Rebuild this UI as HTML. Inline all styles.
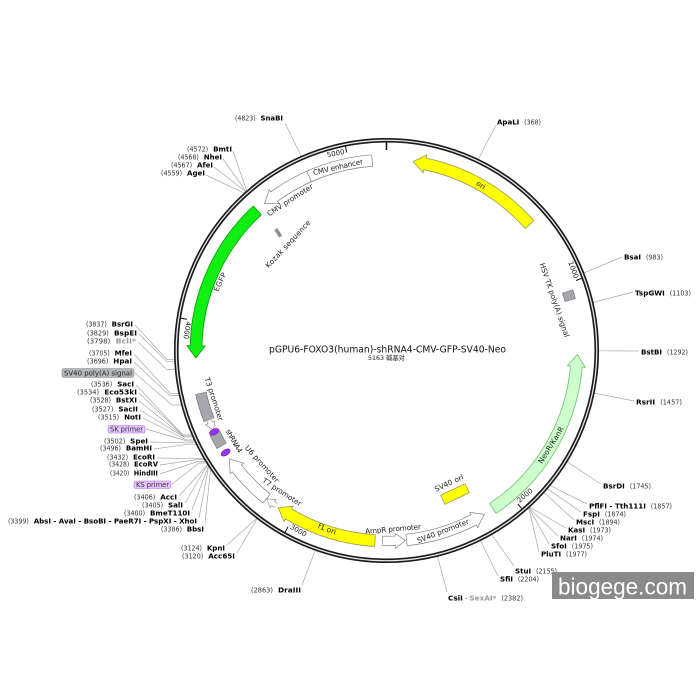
<!DOCTYPE html>
<html><head><meta charset="utf-8"><style>
html,body{margin:0;padding:0;background:#fff;}
svg{display:block;font-family:"DejaVu Sans","Noto Sans CJK SC",sans-serif;}
.n{font-size:6.6px;fill:#333;font-weight:normal;}
.b{font-size:7.4px;fill:#000;font-weight:bold;}
.g{fill:#9a9a9a;}
.ln{stroke:#a8a8a8;stroke-width:0.7;fill:none;}
.fl{font-size:7.3px;fill:#222;}
.tk{font-size:7px;fill:#222;}
</style></head><body>
<svg width="700" height="700" viewBox="0 0 700 700" xmlns="http://www.w3.org/2000/svg">
<rect width="700" height="700" fill="#fff"/>

<!-- label lines -->
<g class="ln">
<path d="M285,123 L301.3,156.4"/>
<path d="M233,151 L246.8,191"/>
<path d="M223,159 L246,191.7"/>
<path d="M214,167 L245.9,191.9"/>
<path d="M206,175 L244.3,193.2"/>
<path d="M135,325 L167,359.6 L174.7,359.6"/>
<path d="M139,334 L167,361.7 L174.8,361.7"/>
<path d="M138,342 L167,369.6 L175.4,369.6"/>
<path d="M134,354 L170,393.3 L178.9,393.3"/>
<path d="M134,362 L170,395.6 L179.4,395.6"/>
<path d="M135,373 L172,405 L181,405"/>
<path d="M136,385 L183,435 L192,435"/>
<path d="M139,393 L183,435.3 L192.2,435.3"/>
<path d="M139,401 L184,436.8 L192.9,436.8"/>
<path d="M140,410 L184,437 L193,437"/>
<path d="M143,418 L186,439.8 L194.2,439.8"/>
<path d="M146,429 L187,441 L195,441"/>
<path d="M150,442 L187,442.8 L195.6,442.8"/>
<path d="M154,449 L188,444.2 L196.3,444.2"/>
<path d="M157,458 L196,458.7 L204.2,458.7"/>
<path d="M160,465 L197,459.6 L204.7,459.6"/>
<path d="M160,474 L198,461.4 L205.8,461.4"/>
<path d="M172,484 L199,463 L207,463"/>
<path d="M179,496 L207.7,464.4"/>
<path d="M185,503 L207.8,464.5"/>
<path d="M192,510 L208.5,465.8"/>
<path d="M199,518 L208.7,466"/>
<path d="M205,523 L210.6,468.8"/>
<path d="M227,545 L256.9,518.1"/>
<path d="M237,553 L257.3,518.6"/>
<path d="M302,585 L315.3,550.2"/>
<path d="M496,125 L478.3,159.4"/>
<path d="M622,257 L583.8,272.9"/>
<path d="M633,292 L593,302.5"/>
<path d="M639,351 L598.5,350.8"/>
<path d="M634,401 L594.2,393.1"/>
<path d="M601,484 L567,461.8"/>
<path d="M587,504 L550.1,485.4"/>
<path d="M581,512 L547.3,488.7"/>
<path d="M574,520 L543.9,492.5"/>
<path d="M566,528 L529.6,507"/>
<path d="M558,536 L528.8,507.6"/>
<path d="M549,544 L528.8,507.6"/>
<path d="M539,552 L528.8,507.6"/>
<path d="M514,566 L491.7,534.6"/>
<path d="M498,576 L480.5,540.5"/>
<path d="M447,592 L437.5,556.3"/>
</g>

<!-- backbone -->
<circle cx="386.5" cy="350.5" r="210.25" fill="none" stroke="#1a1a1a" stroke-width="4.6"/>
<circle cx="386.5" cy="350.5" r="210.25" fill="none" stroke="#e6e6e6" stroke-width="1.3"/>

<!-- ticks -->
<g stroke="#111" stroke-width="1">
<line x1="386.5" y1="142" x2="386.5" y2="150" stroke-width="1.6"/>
<line x1="386.5" y1="142.5" x2="386.5" y2="148.5" transform="rotate(69.73 386.5 350.5)"/>
<line x1="386.5" y1="142.5" x2="386.5" y2="148.5" transform="rotate(139.45 386.5 350.5)"/>
<line x1="386.5" y1="142.5" x2="386.5" y2="148.5" transform="rotate(209.18 386.5 350.5)"/>
<line x1="386.5" y1="142.5" x2="386.5" y2="148.5" transform="rotate(278.91 386.5 350.5)"/>
<line x1="386.5" y1="142.5" x2="386.5" y2="148.5" transform="rotate(348.63 386.5 350.5)"/>
</g>
<text class="tk" x="384.5" y="149.5" text-anchor="end" transform="rotate(348.63 386.5 350.5)">5000</text>
<text class="tk" x="384.5" y="149.5" text-anchor="end" transform="rotate(69.73 386.5 350.5)">1000</text>
<text class="tk" x="388.5" y="553" transform="rotate(-40.55 386.5 350.5)">2000</text>
<text class="tk" x="388.5" y="553" transform="rotate(29.18 386.5 350.5)">3000</text>
<text class="tk" x="388.5" y="553" transform="rotate(98.91 386.5 350.5)">4000</text>

<!-- ===== features ===== -->
<g fill="none">
<!-- ori -->
<path d="M386.5,160A190.5,190.5 0 1 1 386.5,541A190.5,190.5 0 1 1 386.5,160" pathLength="5163" stroke="#99995f" stroke-width="12.6" stroke-dasharray="531 9999" stroke-dashoffset="-167"/>
<polygon points="386.5,151 386.5,169 374.5,160" fill="#ffff00" stroke="#99995f" stroke-width="0.8" transform="rotate(11.64 386.5 350.5)"/>
<path d="M386.5,160A190.5,190.5 0 1 1 386.5,541A190.5,190.5 0 1 1 386.5,160" pathLength="5163" stroke="#ffff00" stroke-width="11" stroke-dasharray="534 9999" stroke-dashoffset="-164"/>
<line x1="386.5" y1="154.2" x2="386.5" y2="165.8" stroke="#99995f" stroke-width="0.8" transform="rotate(48.67 386.5 350.5)"/>

<!-- NeoR/KanR -->
<path d="M386.5,160A190.5,190.5 0 1 1 386.5,541A190.5,190.5 0 1 1 386.5,160" pathLength="5163" stroke="#6fbf6f" stroke-width="12.6" stroke-dasharray="735 9999" stroke-dashoffset="-1360"/>
<polygon points="386.5,151 386.5,169 374.5,160" fill="#ccffcc" stroke="#6fbf6f" stroke-width="0.8" transform="rotate(94.83 386.5 350.5)"/>
<path d="M386.5,160A190.5,190.5 0 1 1 386.5,541A190.5,190.5 0 1 1 386.5,160" pathLength="5163" stroke="#ccffcc" stroke-width="11" stroke-dasharray="738 9999" stroke-dashoffset="-1357"/>
<line x1="386.5" y1="154.2" x2="386.5" y2="165.8" stroke="#6fbf6f" stroke-width="0.8" transform="rotate(146.08 386.5 350.5)"/>

<!-- EGFP -->
<path d="M386.5,160A190.5,190.5 0 1 1 386.5,541A190.5,190.5 0 1 1 386.5,160" pathLength="5163" stroke="#00a000" stroke-width="12.6" stroke-dasharray="659 9999" stroke-dashoffset="-3892"/>
<polygon points="386.5,151 386.5,169 374.5,160" fill="#11ee11" stroke="#00a000" stroke-width="0.8" transform="rotate(271.38 386.5 350.5)"/>
<path d="M386.5,160A190.5,190.5 0 1 1 386.5,541A190.5,190.5 0 1 1 386.5,160" pathLength="5163" stroke="#11ee11" stroke-width="11" stroke-dasharray="662 9999" stroke-dashoffset="-3889"/>
<line x1="386.5" y1="154.2" x2="386.5" y2="165.8" stroke="#00a000" stroke-width="0.8" transform="rotate(317.33 386.5 350.5)"/>

<!-- CMV promoter + enhancer -->
<path d="M386.5,160A190.5,190.5 0 1 1 386.5,541A190.5,190.5 0 1 1 386.5,160" pathLength="5163" stroke="#808080" stroke-width="12.2" stroke-dasharray="456 9999" stroke-dashoffset="-4645"/>
<polygon points="386.5,151.5 386.5,168.5 374.5,160" fill="#fff" stroke="#808080" stroke-width="0.7" transform="rotate(323.88 386.5 350.5)"/>
<path d="M386.5,160A190.5,190.5 0 1 1 386.5,541A190.5,190.5 0 1 1 386.5,160" pathLength="5163" stroke="#fff" stroke-width="10.8" stroke-dasharray="459 9999" stroke-dashoffset="-4642"/>
<line x1="386.5" y1="154.4" x2="386.5" y2="165.6" stroke="#808080" stroke-width="0.7" transform="rotate(336.01 386.5 350.5)"/>
<line x1="386.5" y1="154.4" x2="386.5" y2="165.6" stroke="#808080" stroke-width="0.7" transform="rotate(355.68 386.5 350.5)"/>

<!-- SV40 promoter -->
<path d="M386.5,160A190.5,190.5 0 1 1 386.5,541A190.5,190.5 0 1 1 386.5,160" pathLength="5163" stroke="#808080" stroke-width="12.2" stroke-dasharray="304 9999" stroke-dashoffset="-2191"/>
<polygon points="386.5,151.5 386.5,168.5 374.5,160" fill="#fff" stroke="#808080" stroke-width="0.7" transform="rotate(152.77 386.5 350.5)"/>
<path d="M386.5,160A190.5,190.5 0 1 1 386.5,541A190.5,190.5 0 1 1 386.5,160" pathLength="5163" stroke="#fff" stroke-width="10.8" stroke-dasharray="307 9999" stroke-dashoffset="-2188"/>
<line x1="386.5" y1="154.4" x2="386.5" y2="165.6" stroke="#808080" stroke-width="0.7" transform="rotate(173.97 386.5 350.5)"/>

<!-- AmpR promoter -->
<path d="M386.5,160A190.5,190.5 0 1 1 386.5,541A190.5,190.5 0 1 1 386.5,160" pathLength="5163" stroke="#808080" stroke-width="10.2" stroke-dasharray="57 9999" stroke-dashoffset="-2543"/>
<polygon points="386.5,152.5 386.5,167.5 376.5,160" fill="#fff" stroke="#808080" stroke-width="0.7" transform="rotate(177.32 386.5 350.5)"/>
<path d="M386.5,160A190.5,190.5 0 1 1 386.5,541A190.5,190.5 0 1 1 386.5,160" pathLength="5163" stroke="#fff" stroke-width="8.8" stroke-dasharray="60 9999" stroke-dashoffset="-2540"/>
<line x1="386.5" y1="155.4" x2="386.5" y2="164.6" stroke="#808080" stroke-width="0.7" transform="rotate(181.29 386.5 350.5)"/>

<!-- f1 ori -->
<path d="M386.5,160A190.5,190.5 0 1 1 386.5,541A190.5,190.5 0 1 1 386.5,160" pathLength="5163" stroke="#99995f" stroke-width="12.6" stroke-dasharray="394 9999" stroke-dashoffset="-2631"/>
<polygon points="386.5,151 386.5,169 398.5,160" fill="#ffff00" stroke="#99995f" stroke-width="0.8" transform="rotate(210.93 386.5 350.5)"/>
<path d="M386.5,160A190.5,190.5 0 1 1 386.5,541A190.5,190.5 0 1 1 386.5,160" pathLength="5163" stroke="#ffff00" stroke-width="11" stroke-dasharray="397 9999" stroke-dashoffset="-2631"/>
<line x1="386.5" y1="154.2" x2="386.5" y2="165.8" stroke="#99995f" stroke-width="0.8" transform="rotate(183.45 386.5 350.5)"/>

<!-- U6 promoter -->
<path d="M386.5,160A190.5,190.5 0 1 1 386.5,541A190.5,190.5 0 1 1 386.5,160" pathLength="5163" stroke="#808080" stroke-width="12.2" stroke-dasharray="183 9999" stroke-dashoffset="-3141"/>
<polygon points="386.5,151.5 386.5,168.5 398.5,160" fill="#fff" stroke="#808080" stroke-width="0.7" transform="rotate(231.77 386.5 350.5)"/>
<path d="M386.5,160A190.5,190.5 0 1 1 386.5,541A190.5,190.5 0 1 1 386.5,160" pathLength="5163" stroke="#fff" stroke-width="10.8" stroke-dasharray="186 9999" stroke-dashoffset="-3141"/>
<line x1="386.5" y1="154.4" x2="386.5" y2="165.6" stroke="#808080" stroke-width="0.7" transform="rotate(219.01 386.5 350.5)"/>

<!-- T7 promoter tiny -->
<path d="M386.5,160A190.5,190.5 0 1 1 386.5,541A190.5,190.5 0 1 1 386.5,160" pathLength="5163" stroke="#808080" stroke-width="5.4" stroke-dasharray="15 9999" stroke-dashoffset="-3090"/>
<polygon points="386.5,155 386.5,165 394.5,160" fill="#fff" stroke="#808080" stroke-width="0.6" transform="rotate(216.5 386.5 350.5)"/>
<path d="M386.5,160A190.5,190.5 0 1 1 386.5,541A190.5,190.5 0 1 1 386.5,160" pathLength="5163" stroke="#fff" stroke-width="4.2" stroke-dasharray="17 9999" stroke-dashoffset="-3090"/>

<!-- T3 promoter tiny -->
<path d="M386.5,160A190.5,190.5 0 1 1 386.5,541A190.5,190.5 0 1 1 386.5,160" pathLength="5163" stroke="#808080" stroke-width="5.4" stroke-dasharray="10 9999" stroke-dashoffset="-3552"/>
<polygon points="386.5,155 386.5,165 378.5,160" fill="#fff" stroke="#808080" stroke-width="0.6" transform="rotate(247.67 386.5 350.5)"/>
<path d="M386.5,160A190.5,190.5 0 1 1 386.5,541A190.5,190.5 0 1 1 386.5,160" pathLength="5163" stroke="#fff" stroke-width="4.2" stroke-dasharray="12 9999" stroke-dashoffset="-3550"/>

<!-- gray boxes -->
<path d="M386.5,160A190.5,190.5 0 1 1 386.5,541A190.5,190.5 0 1 1 386.5,160" pathLength="5163" stroke="#6e7276" stroke-width="11.4" stroke-dasharray="122 9999" stroke-dashoffset="-3565"/>
<path d="M386.5,160A190.5,190.5 0 1 1 386.5,541A190.5,190.5 0 1 1 386.5,160" pathLength="5163" stroke="#a4a8ad" stroke-width="10" stroke-dasharray="118 9999" stroke-dashoffset="-3567"/>
<path d="M386.5,160A190.5,190.5 0 1 1 386.5,541A190.5,190.5 0 1 1 386.5,160" pathLength="5163" stroke="#6e7276" stroke-width="11.4" stroke-dasharray="65 9999" stroke-dashoffset="-3440"/>
<path d="M386.5,160A190.5,190.5 0 1 1 386.5,541A190.5,190.5 0 1 1 386.5,160" pathLength="5163" stroke="#a4a8ad" stroke-width="10" stroke-dasharray="61 9999" stroke-dashoffset="-3442"/>
<path d="M386.5,160A190.5,190.5 0 1 1 386.5,541A190.5,190.5 0 1 1 386.5,160" pathLength="5163" stroke="#6e7276" stroke-width="11.4" stroke-dasharray="42 9999" stroke-dashoffset="-1030"/>
<path d="M386.5,160A190.5,190.5 0 1 1 386.5,541A190.5,190.5 0 1 1 386.5,160" pathLength="5163" stroke="#a4a8ad" stroke-width="10" stroke-dasharray="38 9999" stroke-dashoffset="-1032"/>
</g>

<!-- primer ellipses -->
<ellipse cx="386.5" cy="160" rx="2.8" ry="5" fill="#9a33ee" stroke="#6a1aa8" stroke-width="0.6" transform="rotate(237.63 386.5 350.5)"/>
<ellipse cx="386.5" cy="160" rx="2.8" ry="5" fill="#9a33ee" stroke="#6a1aa8" stroke-width="0.6" transform="rotate(244.74 386.5 350.5)"/>

<!-- SV40 ori & Kozak -->
<rect x="441.5" y="489" width="27" height="10" fill="#ffff00" stroke="#99995f" stroke-width="0.8" transform="rotate(-25 455 494)"/>
<rect x="276.5" y="228.5" width="3.5" height="9" fill="#8c8c8c" transform="rotate(-33 278 233)"/>

<!-- feature labels -->
<text class="fl" x="481" y="187.5" text-anchor="middle" transform="rotate(33 481 185)">ori</text>
<text class="fl" x="554.5" y="302.5" text-anchor="middle" transform="rotate(71 554.5 300)" textLength="78">HSV TK poly(A) signal</text>
<text class="fl" x="551" y="447.5" text-anchor="middle" transform="rotate(-58 551 445)" textLength="42">NeoR/KanR</text>
<text class="fl" x="449" y="485.5" text-anchor="middle" transform="rotate(-25 449 483)" textLength="31">SV40 ori</text>
<text class="fl" x="443" y="533.5" text-anchor="middle" transform="rotate(-21 443 531)" textLength="55">SV40 promoter</text>
<text class="fl" x="393" y="531.5" text-anchor="middle" transform="rotate(-5 393 529)" textLength="56">AmpR promoter</text>
<text class="fl" x="327" y="531.5" text-anchor="middle" transform="rotate(20 327 529)">f1 ori</text>
<text class="fl" x="282" y="494.5" text-anchor="middle" transform="rotate(33 282 492)" textLength="45">T7 promoter</text>
<text class="fl" x="262" y="466.5" text-anchor="middle" transform="rotate(48 262 464)" textLength="47">U6 promoter</text>
<text class="fl" x="234" y="443.5" text-anchor="middle" transform="rotate(60 234 441)" textLength="26">shRNA4</text>
<text class="fl" x="214" y="401.5" text-anchor="middle" transform="rotate(72 214 399)" textLength="45">T3 promoter</text>
<text class="fl" x="220" y="284.5" text-anchor="middle" transform="rotate(-65 220 282)" textLength="20">EGFP</text>
<text class="fl" x="338" y="169.5" text-anchor="middle" transform="rotate(-13 338 167)" textLength="51">CMV enhancer</text>
<text class="fl" x="290" y="202.5" text-anchor="middle" transform="rotate(-33 290 200)" textLength="53">CMV promoter</text>
<text class="fl" x="288" y="246.5" text-anchor="middle" transform="rotate(-47 288 244)" textLength="62">Kozak sequence</text>

<!-- title -->
<text x="269" y="352.5" font-size="9.5" fill="#111" textLength="237" lengthAdjust="spacingAndGlyphs">pGPU6-FOXO3(human)-shRNA4-CMV-GFP-SV40-Neo</text>
<text x="368" y="360" font-size="6.3" fill="#222" textLength="37" lengthAdjust="spacingAndGlyphs">5163 碱基对</text>

<!-- left labels -->
<g>
<text x="235" y="120.5" textLength="48" lengthAdjust="spacingAndGlyphs"><tspan class="n">(4823)</tspan> <tspan class="b">SnaBI</tspan></text>
<text x="187" y="151.5" textLength="45" lengthAdjust="spacingAndGlyphs"><tspan class="n">(4572)</tspan> <tspan class="b">BmtI</tspan></text>
<text x="178" y="159.5" textLength="44" lengthAdjust="spacingAndGlyphs"><tspan class="n">(4568)</tspan> <tspan class="b">NheI</tspan></text>
<text x="171" y="167.5" textLength="42" lengthAdjust="spacingAndGlyphs"><tspan class="n">(4567)</tspan> <tspan class="b">AfeI</tspan></text>
<text x="161" y="175.5" textLength="44" lengthAdjust="spacingAndGlyphs"><tspan class="n">(4559)</tspan> <tspan class="b">AgeI</tspan></text>
<text x="86" y="326.5" textLength="47" lengthAdjust="spacingAndGlyphs"><tspan class="n">(3837)</tspan> <tspan class="b">BsrGI</tspan></text>
<text x="87" y="335.5" textLength="50" lengthAdjust="spacingAndGlyphs"><tspan class="n">(3829)</tspan> <tspan class="b">BspEI</tspan></text>
<text x="87" y="343.5" textLength="49" lengthAdjust="spacingAndGlyphs"><tspan class="n">(3798)</tspan> <tspan class="b g">BclI*</tspan></text>
<text x="89" y="355.5" textLength="43" lengthAdjust="spacingAndGlyphs"><tspan class="n">(3705)</tspan> <tspan class="b">MfeI</tspan></text>
<text x="87" y="363.5" textLength="45" lengthAdjust="spacingAndGlyphs"><tspan class="n">(3696)</tspan> <tspan class="b">HpaI</tspan></text>
<rect x="62" y="368.5" width="72" height="9" rx="2" fill="#b4b8bc" stroke="#8a8e92" stroke-width="0.6"/>
<text x="64" y="375.5" font-size="7" fill="#222" textLength="68" lengthAdjust="spacingAndGlyphs">SV40 poly(A) signal</text>
<text x="91" y="386.5" textLength="43" lengthAdjust="spacingAndGlyphs"><tspan class="n">(3536)</tspan> <tspan class="b">SacI</tspan></text>
<text x="77" y="394.5" textLength="60" lengthAdjust="spacingAndGlyphs"><tspan class="n">(3534)</tspan> <tspan class="b">Eco53kI</tspan></text>
<text x="90" y="402.5" textLength="47" lengthAdjust="spacingAndGlyphs"><tspan class="n">(3528)</tspan> <tspan class="b">BstXI</tspan></text>
<text x="92" y="411.5" textLength="46" lengthAdjust="spacingAndGlyphs"><tspan class="n">(3527)</tspan> <tspan class="b">SacII</tspan></text>
<text x="98" y="419.5" textLength="43" lengthAdjust="spacingAndGlyphs"><tspan class="n">(3515)</tspan> <tspan class="b">NotI</tspan></text>
<rect x="108" y="425.5" width="37" height="7.5" rx="2" fill="#e6c2ff" stroke="#b070e0" stroke-width="0.6"/>
<text x="110" y="431.5" font-size="6.8" fill="#333" textLength="33" lengthAdjust="spacingAndGlyphs">SK primer</text>
<text x="104" y="443.5" textLength="44" lengthAdjust="spacingAndGlyphs"><tspan class="n">(3502)</tspan> <tspan class="b">SpeI</tspan></text>
<text x="100" y="450.5" textLength="52" lengthAdjust="spacingAndGlyphs"><tspan class="n">(3496)</tspan> <tspan class="b">BamHI</tspan></text>
<text x="107" y="459.5" textLength="48" lengthAdjust="spacingAndGlyphs"><tspan class="n">(3432)</tspan> <tspan class="b">EcoRI</tspan></text>
<text x="109" y="466.5" textLength="49" lengthAdjust="spacingAndGlyphs"><tspan class="n">(3428)</tspan> <tspan class="b">EcoRV</tspan></text>
<text x="110" y="475.5" textLength="48" lengthAdjust="spacingAndGlyphs"><tspan class="n">(3420)</tspan> <tspan class="b">HindIII</tspan></text>
<rect x="134" y="481" width="37" height="7.5" rx="2" fill="#e6c2ff" stroke="#b070e0" stroke-width="0.6"/>
<text x="136" y="487" font-size="6.8" fill="#333" textLength="33" lengthAdjust="spacingAndGlyphs">KS primer</text>
<text x="134" y="499.5" textLength="43" lengthAdjust="spacingAndGlyphs"><tspan class="n">(3406)</tspan> <tspan class="b">AccI</tspan></text>
<text x="142" y="507.5" textLength="41" lengthAdjust="spacingAndGlyphs"><tspan class="n">(3405)</tspan> <tspan class="b">SalI</tspan></text>
<text x="124" y="515.5" textLength="66" lengthAdjust="spacingAndGlyphs"><tspan class="n">(3400)</tspan> <tspan class="b">BmeT110I</tspan></text>
<text x="8" y="523.5" textLength="189" lengthAdjust="spacingAndGlyphs"><tspan class="n">(3399)</tspan> <tspan class="b">AbsI - AvaI - BsoBI - PaeR7I - PspXI - XhoI</tspan></text>
<text x="161" y="531.5" textLength="43" lengthAdjust="spacingAndGlyphs"><tspan class="n">(3386)</tspan> <tspan class="b">BbsI</tspan></text>
<text x="181" y="550.5" textLength="44" lengthAdjust="spacingAndGlyphs"><tspan class="n">(3124)</tspan> <tspan class="b">KpnI</tspan></text>
<text x="182" y="558.5" textLength="53" lengthAdjust="spacingAndGlyphs"><tspan class="n">(3120)</tspan> <tspan class="b">Acc65I</tspan></text>
<text x="251" y="592.5" textLength="50" lengthAdjust="spacingAndGlyphs"><tspan class="n">(2863)</tspan> <tspan class="b">DraIII</tspan></text>

<!-- right labels -->
<text x="497" y="124.5" textLength="44" lengthAdjust="spacingAndGlyphs"><tspan class="b">ApaLI</tspan> <tspan class="n">(368)</tspan></text>
<text x="624" y="259.5" textLength="39" lengthAdjust="spacingAndGlyphs"><tspan class="b">BsaI</tspan> <tspan class="n">(983)</tspan></text>
<text x="635" y="295.5" textLength="56" lengthAdjust="spacingAndGlyphs"><tspan class="b">TspGWI</tspan> <tspan class="n">(1103)</tspan></text>
<text x="641" y="354.5" textLength="47" lengthAdjust="spacingAndGlyphs"><tspan class="b">BstBI</tspan> <tspan class="n">(1292)</tspan></text>
<text x="636" y="404.5" textLength="46" lengthAdjust="spacingAndGlyphs"><tspan class="b">RsrII</tspan> <tspan class="n">(1457)</tspan></text>
<text x="603" y="488.5" textLength="48" lengthAdjust="spacingAndGlyphs"><tspan class="b">BsrDI</tspan> <tspan class="n">(1745)</tspan></text>
<text x="589" y="508.5" textLength="83" lengthAdjust="spacingAndGlyphs"><tspan class="b">PflFI - Tth111I</tspan> <tspan class="n">(1857)</tspan></text>
<text x="583" y="516.5" textLength="43" lengthAdjust="spacingAndGlyphs"><tspan class="b">FspI</tspan> <tspan class="n">(1874)</tspan></text>
<text x="576" y="524.5" textLength="44" lengthAdjust="spacingAndGlyphs"><tspan class="b">MscI</tspan> <tspan class="n">(1894)</tspan></text>
<text x="568" y="532.5" textLength="43" lengthAdjust="spacingAndGlyphs"><tspan class="b">KasI</tspan> <tspan class="n">(1973)</tspan></text>
<text x="560" y="540.5" textLength="43" lengthAdjust="spacingAndGlyphs"><tspan class="b">NarI</tspan> <tspan class="n">(1974)</tspan></text>
<text x="551" y="548.5" textLength="42" lengthAdjust="spacingAndGlyphs"><tspan class="b">SfoI</tspan> <tspan class="n">(1975)</tspan></text>
<text x="541" y="556.5" textLength="46" lengthAdjust="spacingAndGlyphs"><tspan class="b">PluTI</tspan> <tspan class="n">(1977)</tspan></text>
<text x="515" y="573.5" textLength="42" lengthAdjust="spacingAndGlyphs"><tspan class="b">StuI</tspan> <tspan class="n">(2155)</tspan></text>
<text x="500" y="581.5" textLength="39" lengthAdjust="spacingAndGlyphs"><tspan class="b">SfiI</tspan> <tspan class="n">(2204)</tspan></text>
<text x="448" y="600.5" textLength="75" lengthAdjust="spacingAndGlyphs"><tspan class="b">CsiI</tspan><tspan class="n"> - </tspan><tspan class="b g">SexAI*</tspan> <tspan class="n">(2382)</tspan></text>
</g>

<!-- watermark -->
<rect x="552" y="572" width="142" height="27" fill="#8a8a8a"/>
<text x="558" y="594.5" font-family="Liberation Sans, Arial, sans-serif" font-size="23" fill="#ffffff" textLength="129" lengthAdjust="spacingAndGlyphs">biogege.com</text>
</svg>
</body></html>
